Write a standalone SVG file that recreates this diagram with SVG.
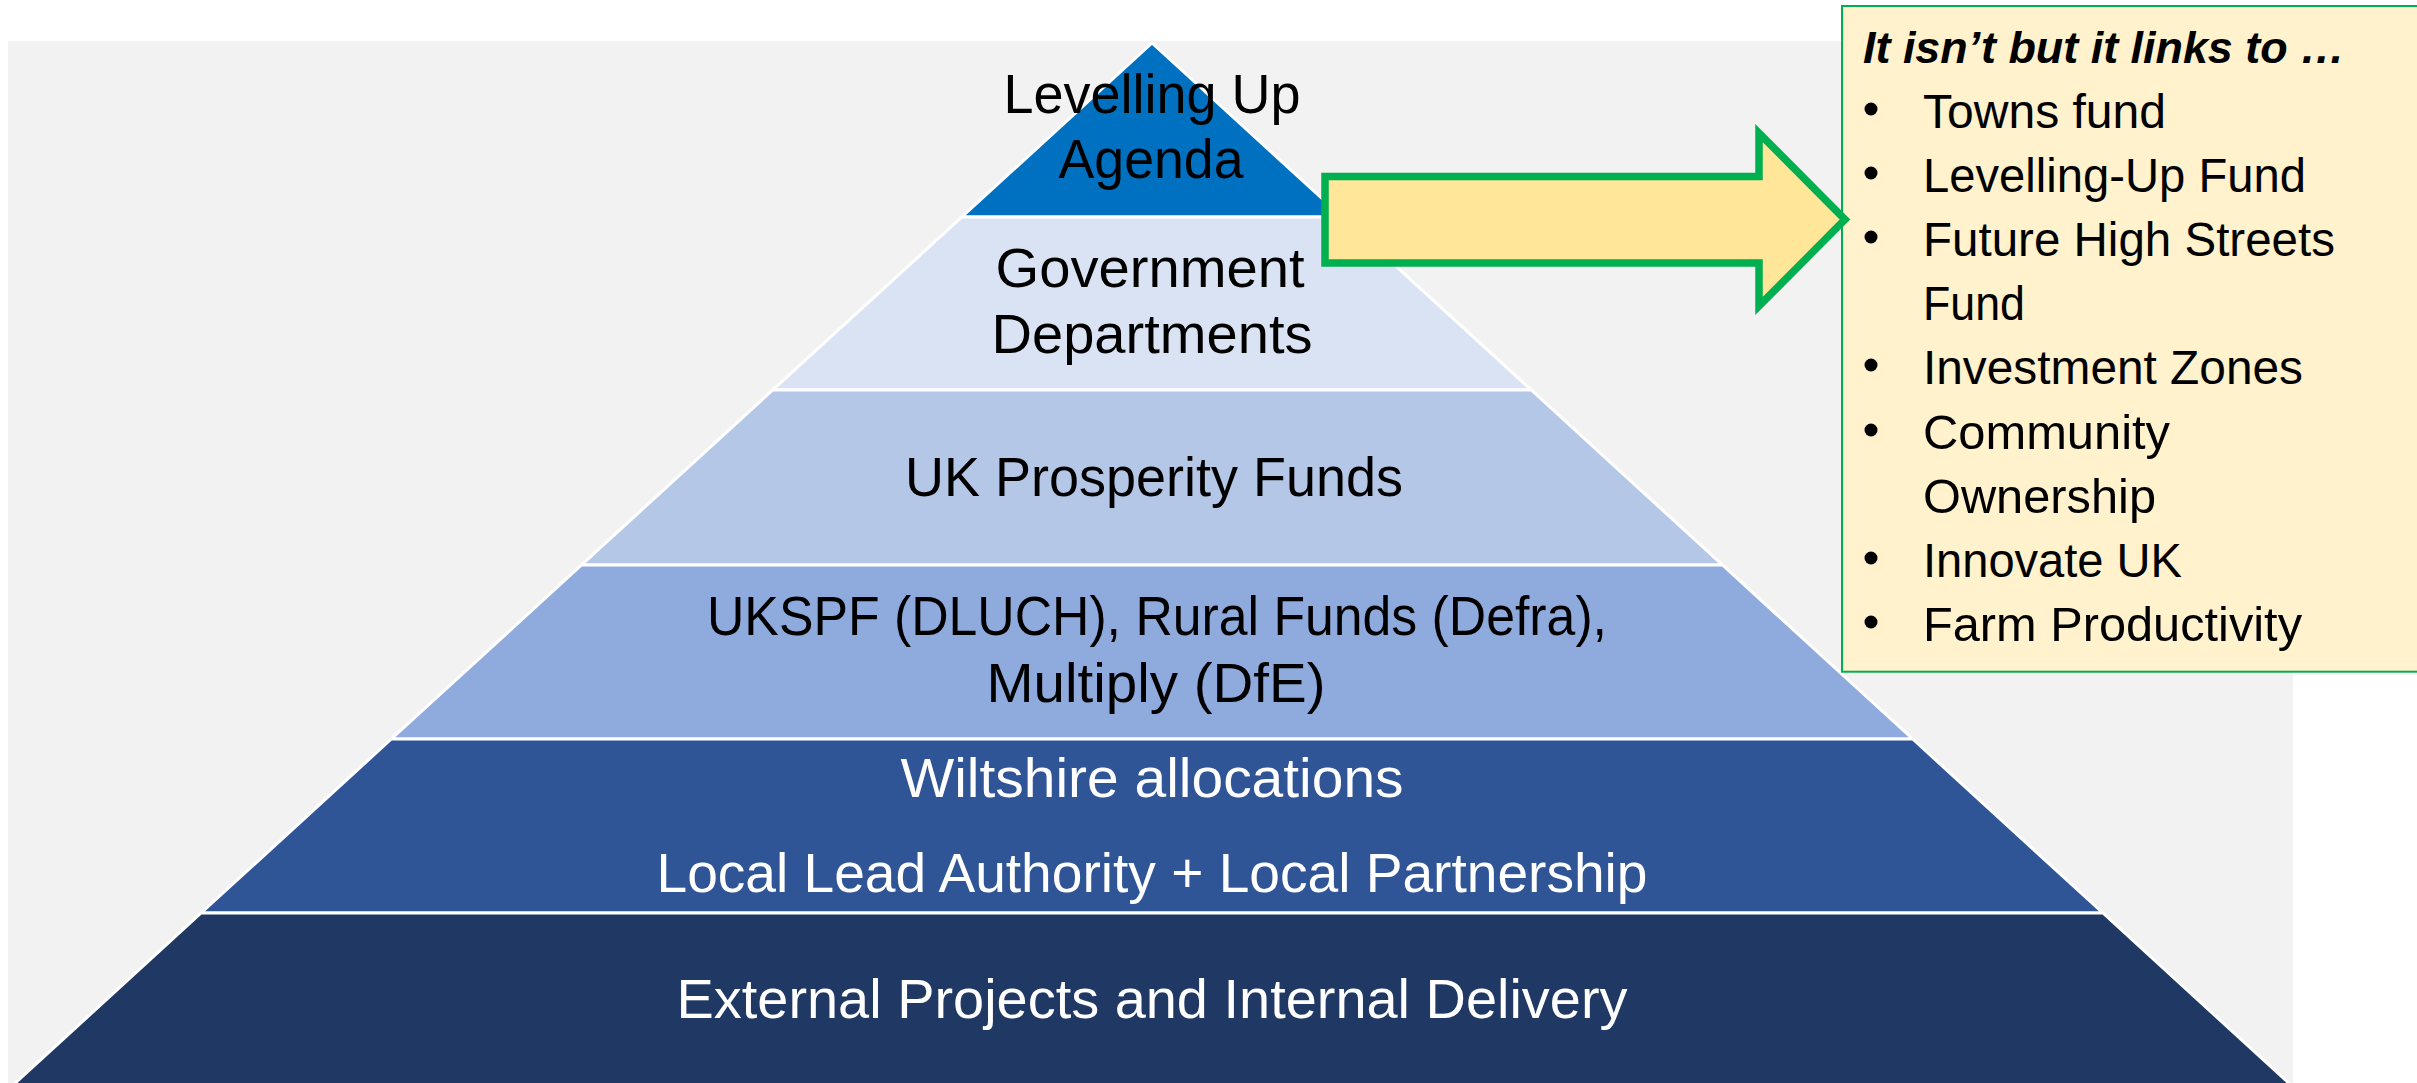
<svg xmlns="http://www.w3.org/2000/svg" width="2417" height="1083" viewBox="0 0 2417 1083">
  <style>
    .layer { stroke: #FFFFFF; stroke-width: 3; stroke-linejoin: miter; }
    .pt { font-family: "Liberation Sans", Arial, sans-serif; font-size: 56px; text-anchor: middle; }
    .dark { fill: #000000; }
    .light { fill: #FFFFFF; }
    .bt { font-family: "Liberation Sans", Arial, sans-serif; font-size: 47.5px; fill: #000000; }
    .title { font-family: "Liberation Sans", Arial, sans-serif; font-size: 45px; font-weight: bold; font-style: italic; fill: #000000; }
    .bullet { fill: #000000; }
  </style>
  <rect x="0" y="0" width="2417" height="1083" fill="#FFFFFF"/>
  <rect id="background" x="8" y="41" width="2285" height="1050" fill="#F2F2F2"/>

  <g id="layer1">
    <polygon class="layer" fill="#0070C0" points="1152,43 1342.2,217 961.8,217"/>
    <text class="pt dark" x="1152" y="113" textLength="297" lengthAdjust="spacingAndGlyphs">Levelling Up</text>
    <text class="pt dark" x="1151" y="178" textLength="185" lengthAdjust="spacingAndGlyphs">Agenda</text>
  </g>
  <g id="layer2">
    <polygon class="layer" fill="#DAE3F3" points="961.8,217 1342.2,217 1531.3,390 772.7,390"/>
    <text class="pt dark" x="1150" y="287" textLength="309" lengthAdjust="spacingAndGlyphs">Government</text>
    <text class="pt dark" x="1152" y="353" textLength="321" lengthAdjust="spacingAndGlyphs">Departments</text>
  </g>
  <g id="layer3">
    <polygon class="layer" fill="#B4C7E7" points="772.7,390 1531.3,390 1722.5,565 581.5,565"/>
    <text class="pt dark" x="1154" y="496" textLength="498" lengthAdjust="spacingAndGlyphs">UK Prosperity Funds</text>
  </g>
  <g id="layer4">
    <polygon class="layer" fill="#8FAADC" points="581.5,565 1722.5,565 1912.7,739 391.3,739"/>
    <text class="pt dark" x="1157" y="635" textLength="900" lengthAdjust="spacingAndGlyphs">UKSPF (DLUCH), Rural Funds (Defra),</text>
    <text class="pt dark" x="1156" y="702" textLength="339" lengthAdjust="spacingAndGlyphs">Multiply (DfE)</text>
  </g>
  <g id="layer5">
    <polygon class="layer" fill="#2F5597" points="391.3,739 1912.7,739 2102.9,913 201.1,913"/>
    <text class="pt light" x="1152" y="797" textLength="503" lengthAdjust="spacingAndGlyphs">Wiltshire allocations</text>
    <text class="pt light" x="1152" y="892" textLength="991" lengthAdjust="spacingAndGlyphs">Local Lead Authority + Local Partnership</text>
  </g>
  <g id="layer6">
    <polygon class="layer" fill="#203864" points="201.1,913 2102.9,913 2293.1,1087 10.9,1087"/>
    <text class="pt light" x="1152" y="1018" textLength="951" lengthAdjust="spacingAndGlyphs">External Projects and Internal Delivery</text>
  </g>

  <g id="links-box">
    <rect x="1842" y="6" width="600" height="665.7" fill="#FFF2CC" stroke="#00B050" stroke-width="2"/>
    <text class="title" x="1863" y="63" textLength="482" lengthAdjust="spacingAndGlyphs">It isn’t but it links to …</text>
    <circle class="bullet" cx="1871" cy="109" r="6.5"/>
    <text class="bt" x="1923" y="128" textLength="243" lengthAdjust="spacingAndGlyphs">Towns fund</text>
    <circle class="bullet" cx="1871" cy="173" r="6.5"/>
    <text class="bt" x="1923" y="192" textLength="383" lengthAdjust="spacingAndGlyphs">Levelling-Up Fund</text>
    <circle class="bullet" cx="1871" cy="237" r="6.5"/>
    <text class="bt" x="1923" y="256" textLength="412" lengthAdjust="spacingAndGlyphs">Future High Streets</text>
    <text class="bt" x="1923" y="320" textLength="102" lengthAdjust="spacingAndGlyphs">Fund</text>
    <circle class="bullet" cx="1871" cy="365" r="6.5"/>
    <text class="bt" x="1923" y="384" textLength="380" lengthAdjust="spacingAndGlyphs">Investment Zones</text>
    <circle class="bullet" cx="1871" cy="430" r="6.5"/>
    <text class="bt" x="1923" y="449" textLength="247" lengthAdjust="spacingAndGlyphs">Community</text>
    <text class="bt" x="1923" y="513" textLength="233" lengthAdjust="spacingAndGlyphs">Ownership</text>
    <circle class="bullet" cx="1871" cy="558" r="6.5"/>
    <text class="bt" x="1923" y="577" textLength="259" lengthAdjust="spacingAndGlyphs">Innovate UK</text>
    <circle class="bullet" cx="1871" cy="622" r="6.5"/>
    <text class="bt" x="1923" y="641" textLength="379" lengthAdjust="spacingAndGlyphs">Farm Productivity</text>
  </g>

  <g id="connectors">
    <path d="M1325,176.5 H1759 V133 L1845,219.5 L1759,306 V263 H1325 Z" fill="#FFE699" stroke="#00B050" stroke-width="7.5" stroke-linejoin="miter"/>
  </g>
</svg>
